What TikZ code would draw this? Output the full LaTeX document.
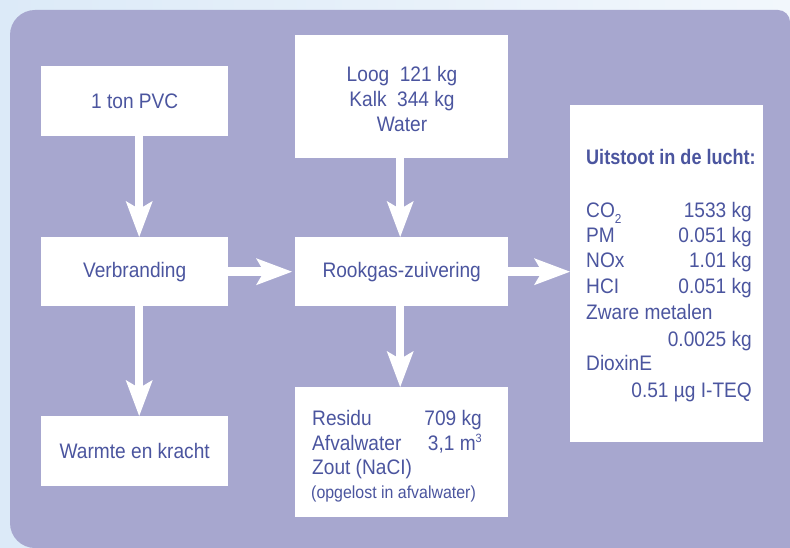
\documentclass[tikz,border=0pt]{standalone}
\usepackage{fontspec}
\setmainfont{Liberation Sans}[FakeStretch=0.91, BoldFeatures={FakeStretch=0.86}]
\usetikzlibrary{arrows.meta}
\definecolor{bgA}{HTML}{DCEAF8}
\definecolor{bgB}{HTML}{F2F7FC}
\definecolor{panelc}{HTML}{A7A7CF}
\definecolor{ink}{HTML}{4B559F}
\begin{document}
\begin{tikzpicture}[x=1pt,y=-1pt,
  box/.style={fill=white, draw=none, inner sep=0pt, anchor=north west, text=ink, font=\fontsize{21}{25}\selectfont},
  txt/.style={text=ink, font=\fontsize{21}{25}\selectfont, inner sep=0pt},
  smalltxt/.style={text=ink, font=\fontsize{17.5}{21}\selectfont, inner sep=0pt},
  fat/.style={draw=white, line width=8.5pt, -{Stealth[length=36pt,width=27pt,inset=8pt,line width=0pt]}},
]
\useasboundingbox (0,0) rectangle (790,548);
\shade[left color=bgA, right color=bgB] (0,0) rectangle (790,548);
\fill[panelc] (10,523) -- (10,35) .. controls (10,21.2) and (21.2,10) .. (35,10)
  -- (778,10) .. controls (784.6,10) and (790,15.4) .. (790,22)
  -- (790,548) -- (35,548) .. controls (21.2,548) and (10,536.8) .. (10,523) -- cycle;

% boxes
\node[box, minimum width=187pt, minimum height=70pt] (pvc) at (41,66) {1 ton PVC};
\node[box, minimum width=187pt, minimum height=69pt] (verb) at (41,237) {Verbranding};
\node[box, minimum width=187pt, minimum height=70pt] (warm) at (41,416) {Warmte en kracht};
\node[box, minimum width=213pt, minimum height=123pt] (loog) at (295,35) {};
\node[box, minimum width=213pt, minimum height=69pt] (rook) at (295,237) {Rookgas-zuivering};
\node[box, minimum width=213pt, minimum height=130pt] (res) at (295,387) {};
\node[box, minimum width=193pt, minimum height=337pt] (uit) at (570,105) {};

% Loog box text
\node[txt, anchor=base] (lg1) at (402,82) {Loog~ 121 kg};
\node[txt, anchor=base] (lg2) at (402,107) {Kalk~ 344 kg};
\node[txt, anchor=base] (lg3) at (402,132) {Water};

% Residu box text
\node[txt, anchor=base west] (r1) at (312,425) {Residu};
\node[txt, anchor=base east] (r1v) at (482,425) {709 kg};
\node[txt, anchor=base west] (r2) at (312,450) {Afvalwater};
\node[txt, anchor=base east] (r2v) at (482,450) {3,1 m\raisebox{8pt}{\fontsize{12}{12}\selectfont 3}};
\node[txt, anchor=base west] (r3) at (312,474) {Zout (NaCI)};
\node[smalltxt, anchor=base west] (r4) at (311,498) {(opgelost in afvalwater)};

% Uitstoot box text
\node[txt, anchor=base west, font=\fontsize{21}{25}\selectfont\bfseries] (u0) at (586,165) {Uitstoot in de lucht:};
\node[txt, anchor=base west] (u1) at (586,218) {CO\raisebox{-6pt}{\fontsize{13}{13}\selectfont 2}};
\node[txt, anchor=base east] (u1v) at (752,218) {1533 kg};
\node[txt, anchor=base west] (u2) at (586,243) {PM};
\node[txt, anchor=base east] (u2v) at (752,243) {0.051 kg};
\node[txt, anchor=base west] (u3) at (586,268) {NOx};
\node[txt, anchor=base east] (u3v) at (752,268) {1.01 kg};
\node[txt, anchor=base west] (u4) at (586,293) {HCI};
\node[txt, anchor=base east] (u4v) at (752,293) {0.051 kg};
\node[txt, anchor=base west] (u5) at (586,319) {Zware metalen};
\node[txt, anchor=base east] (u5v) at (752,346) {0.0025 kg};
\node[txt, anchor=base west] (u6) at (586,370) {DioxinE};
\node[txt, anchor=base east] (u6v) at (752,397) {0.51 µg I-TEQ};

% arrows
\draw[fat] ([xshift=4.5pt]pvc.south) -- ([xshift=4.5pt]verb.north);
\draw[fat] ([xshift=4.5pt]verb.south) -- ([xshift=4.5pt]warm.north);
\draw[fat, shorten >=3pt] (verb.east) -- (rook.west);
\draw[fat] ([xshift=-1.5pt]loog.south) -- ([xshift=-1.5pt]rook.north);
\draw[fat] ([xshift=-1.5pt]rook.south) -- ([xshift=-1.5pt]res.north);
\draw[fat] (rook.east) -- (rook.east -| uit.west);
\end{tikzpicture}
\end{document}
